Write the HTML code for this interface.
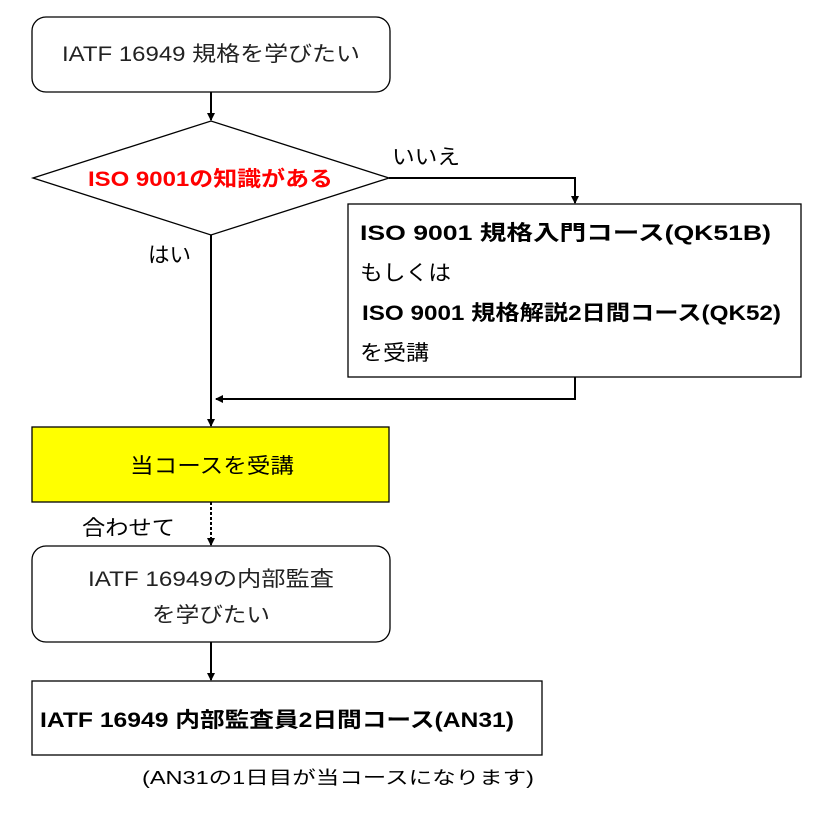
<!DOCTYPE html>
<html><head><meta charset="utf-8"><style>
html,body{margin:0;padding:0;background:#fff;}
svg{display:block;}
text{font-family:"Liberation Sans","Noto Sans CJK JP",sans-serif;}
</style></head><body>
<svg width="833" height="835" viewBox="0 0 833 835" xmlns="http://www.w3.org/2000/svg">
<defs>
<marker id="a" markerWidth="8" markerHeight="8" refX="7" refY="4" orient="auto" markerUnits="userSpaceOnUse">
<path d="M0,0 L8,4 L0,8 z" fill="#000"/></marker>
</defs>
<g fill="none" stroke="#000" stroke-width="1.3">
<rect x="32" y="17" width="358" height="75" rx="14" fill="#fff"/>
<polygon points="33,178 211,121 389,178 211,235" fill="#fff"/>
<rect x="348" y="204" width="453" height="173" fill="#fff"/>
<rect x="32" y="427" width="357" height="75" fill="#ffff00"/>
<rect x="32" y="546" width="358" height="96" rx="14" fill="#fff"/>
<rect x="32" y="681" width="510" height="74" fill="#fff"/>
</g>
<g fill="none" stroke="#000" stroke-width="2">
<line x1="211" y1="92" x2="211" y2="120" marker-end="url(#a)"/>
<polyline points="389,178 575,178 575,203" marker-end="url(#a)"/>
<polyline points="575,377 575,399 216,399" marker-end="url(#a)"/>
<line x1="211" y1="235" x2="211" y2="426" marker-end="url(#a)"/>
<line x1="211" y1="502" x2="211" y2="545" stroke-dasharray="3,2" marker-end="url(#a)"/>
<line x1="211" y1="642" x2="211" y2="680" marker-end="url(#a)"/>
</g>
<g font-size="21" fill="#000" lengthAdjust="spacingAndGlyphs">
<text x="62" y="61" fill="#222" textLength="298" lengthAdjust="spacingAndGlyphs">IATF 16949 規格を学びたい</text>
<text x="88" y="186" fill="#ff0000" font-weight="bold" textLength="245" lengthAdjust="spacingAndGlyphs">ISO 9001の知識がある</text>
<text x="392" y="164" textLength="68" lengthAdjust="spacingAndGlyphs">いいえ</text>
<text x="148" y="262" textLength="43" lengthAdjust="spacingAndGlyphs">はい</text>
<text x="360" y="240" font-weight="bold" textLength="411" lengthAdjust="spacingAndGlyphs">ISO 9001 規格入門コース(QK51B)</text>
<text x="360" y="280" textLength="91" lengthAdjust="spacingAndGlyphs">もしくは</text>
<text x="362" y="320" font-weight="bold" textLength="419" lengthAdjust="spacingAndGlyphs">ISO 9001 規格解説2日間コース(QK52)</text>
<text x="360" y="360" textLength="69" lengthAdjust="spacingAndGlyphs">を受講</text>
<text x="130" y="473" textLength="164" lengthAdjust="spacingAndGlyphs">当コースを受講</text>
<text x="82" y="535" textLength="93" lengthAdjust="spacingAndGlyphs">合わせて</text>
<text x="88" y="586" fill="#222" textLength="246" lengthAdjust="spacingAndGlyphs">IATF 16949の内部監査</text>
<text x="152" y="622" fill="#222" textLength="118" lengthAdjust="spacingAndGlyphs">を学びたい</text>
<text x="40" y="727" font-weight="bold" textLength="474" lengthAdjust="spacingAndGlyphs">IATF 16949 内部監査員2日間コース(AN31)</text>
<text x="142" y="784" font-size="18" textLength="392" lengthAdjust="spacingAndGlyphs">(AN31の1日目が当コースになります)</text>
</g>
</svg>
</body></html>
